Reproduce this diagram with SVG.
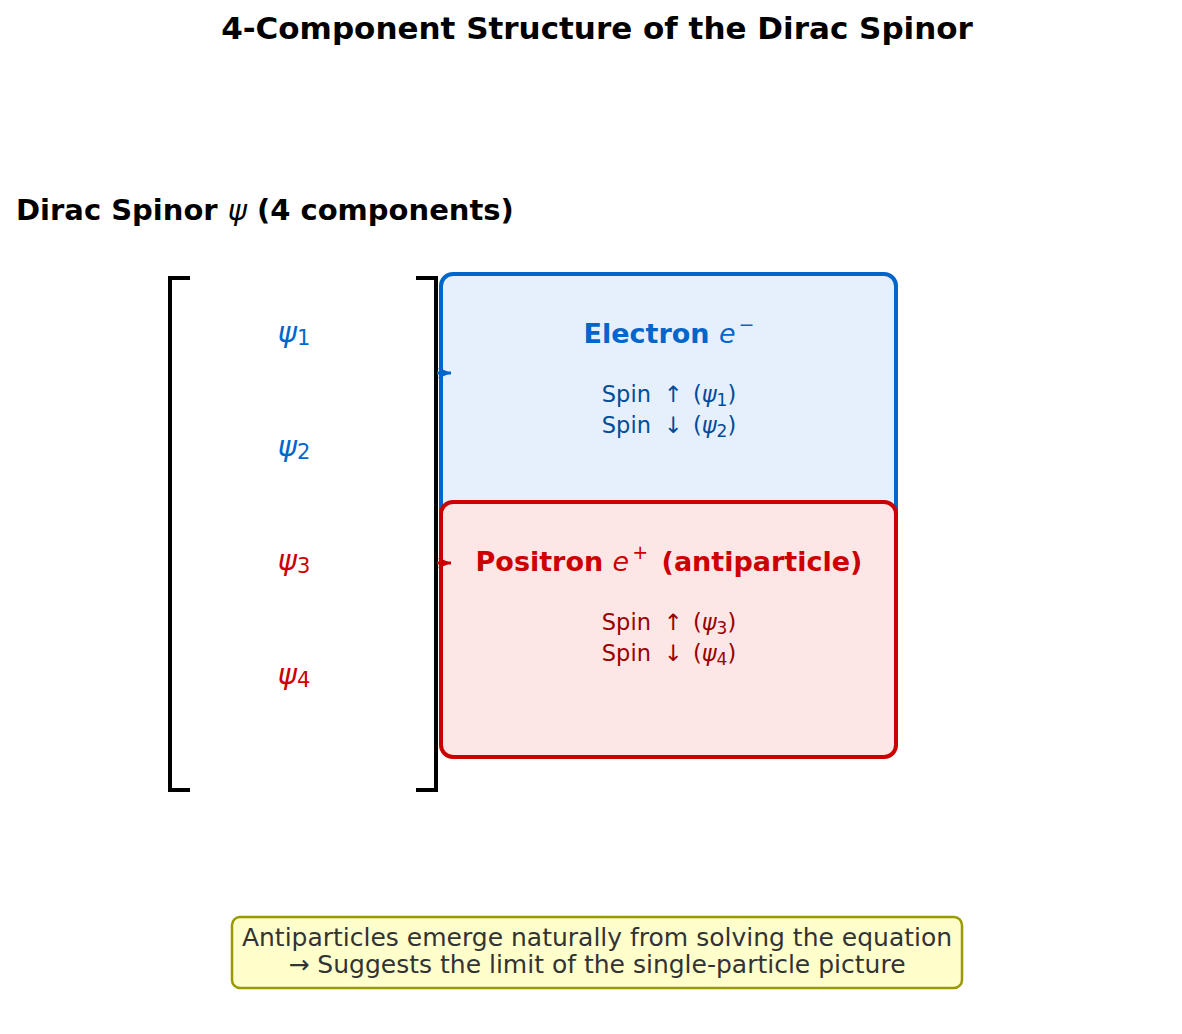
<svg xmlns="http://www.w3.org/2000/svg" width="1182" height="1034" viewBox="0 0 1182 1034">
<style>
text{font-family:"DejaVu Sans","Liberation Sans",sans-serif}
.title{font-size:31px;font-weight:bold;fill:#000}
.sub{font-size:29px;font-weight:bold;fill:#000}
.m{font-style:italic}
.psiB{font-size:29px;fill:#0066cc}
.psiR{font-size:29px;fill:#cc0000}
.hdB{font-size:27px;font-weight:bold;fill:#0066cc}
.hdR{font-size:27px;font-weight:bold;fill:#cc0000}
.spB{font-size:22.5px;fill:#004c99}
.spR{font-size:22.5px;fill:#990000}
.note{font-size:25px;fill:#333333}
.br{fill:none;stroke:#000;stroke-width:4}
</style>
<defs>
<marker id="ahB" markerWidth="13" markerHeight="11" refX="13" refY="5.5" orient="auto" markerUnits="userSpaceOnUse"><path d="M0,0 L13,5.5 L0,11 L3,5.5 Z" fill="#0066cc"/></marker>
<marker id="ahR" markerWidth="13" markerHeight="11" refX="13" refY="5.5" orient="auto" markerUnits="userSpaceOnUse"><path d="M0,0 L13,5.5 L0,11 L3,5.5 Z" fill="#cc0000"/></marker>
</defs>
<rect width="1182" height="1034" fill="#fff"/>
<text class="title" x="597" y="39" text-anchor="middle">4-Component Structure of the Dirac Spinor</text>
<text class="sub" x="16" y="220">Dirac Spinor <tspan class="m" font-weight="normal">ψ</tspan> (4 components)</text>
<g id="bracket">
<path class="br" d="M190,278 H170 V790 H190"/>
<path class="br" d="M416,278 H436 V790 H416"/>
</g>
<g id="components">
<text class="psiB" x="294" y="342" text-anchor="middle"><tspan class="m">ψ</tspan><tspan font-size="21" dy="3">1</tspan></text>
<text class="psiB" x="294" y="456" text-anchor="middle"><tspan class="m">ψ</tspan><tspan font-size="21" dy="3">2</tspan></text>
<text class="psiR" x="294" y="570" text-anchor="middle"><tspan class="m">ψ</tspan><tspan font-size="21" dy="3">3</tspan></text>
<text class="psiR" x="294" y="684" text-anchor="middle"><tspan class="m">ψ</tspan><tspan font-size="21" dy="3">4</tspan></text>
</g>
<g id="electron">
<rect x="441" y="274" width="455" height="250" rx="12" fill="#e6f0fd" stroke="#0066cc" stroke-width="4"/>
<text class="hdB" x="669" y="343" text-anchor="middle">Electron <tspan class="m" font-weight="normal">e</tspan><tspan font-size="19" font-weight="normal" dx="3" dy="-12">−</tspan></text>
<text class="spB" x="669" y="402" text-anchor="middle">Spin <tspan dx="6">↑</tspan><tspan dx="10">(</tspan><tspan class="m">ψ</tspan><tspan font-size="17" dy="4">1</tspan><tspan dy="-4">)</tspan></text>
<text class="spB" x="669" y="433" text-anchor="middle">Spin <tspan dx="6">↓</tspan><tspan dx="10">(</tspan><tspan class="m">ψ</tspan><tspan font-size="17" dy="4">2</tspan><tspan dy="-4">)</tspan></text>
</g>
<g id="positron">
<rect x="441" y="502" width="455" height="255" rx="12" fill="#fde6e6" stroke="#cc0000" stroke-width="4"/>
<text class="hdR" x="669" y="571" text-anchor="middle">Positron <tspan class="m" font-weight="normal">e</tspan><tspan font-size="19" font-weight="normal" dx="3" dy="-12">+</tspan><tspan dx="4" dy="12"> (antiparticle)</tspan></text>
<text class="spR" x="669" y="630" text-anchor="middle">Spin <tspan dx="6">↑</tspan><tspan dx="10">(</tspan><tspan class="m">ψ</tspan><tspan font-size="17" dy="4">3</tspan><tspan dy="-4">)</tspan></text>
<text class="spR" x="669" y="661" text-anchor="middle">Spin <tspan dx="6">↓</tspan><tspan dx="10">(</tspan><tspan class="m">ψ</tspan><tspan font-size="17" dy="4">4</tspan><tspan dy="-4">)</tspan></text>
</g>
<g id="connectors">
<line x1="437" y1="373" x2="451" y2="373" stroke="#0066cc" stroke-width="3" marker-end="url(#ahB)"/>
<line x1="437" y1="563" x2="451" y2="563" stroke="#cc0000" stroke-width="3" marker-end="url(#ahR)"/>
</g>
<g id="note">
<rect x="232" y="917" width="730" height="71" rx="8" fill="#ffffcc" stroke="#999900" stroke-width="2.5"/>
<text class="note" x="597" y="946" text-anchor="middle">Antiparticles emerge naturally from solving the equation</text>
<text class="note" x="597" y="973" text-anchor="middle">→ Suggests the limit of the single-particle picture</text>
</g>
</svg>
